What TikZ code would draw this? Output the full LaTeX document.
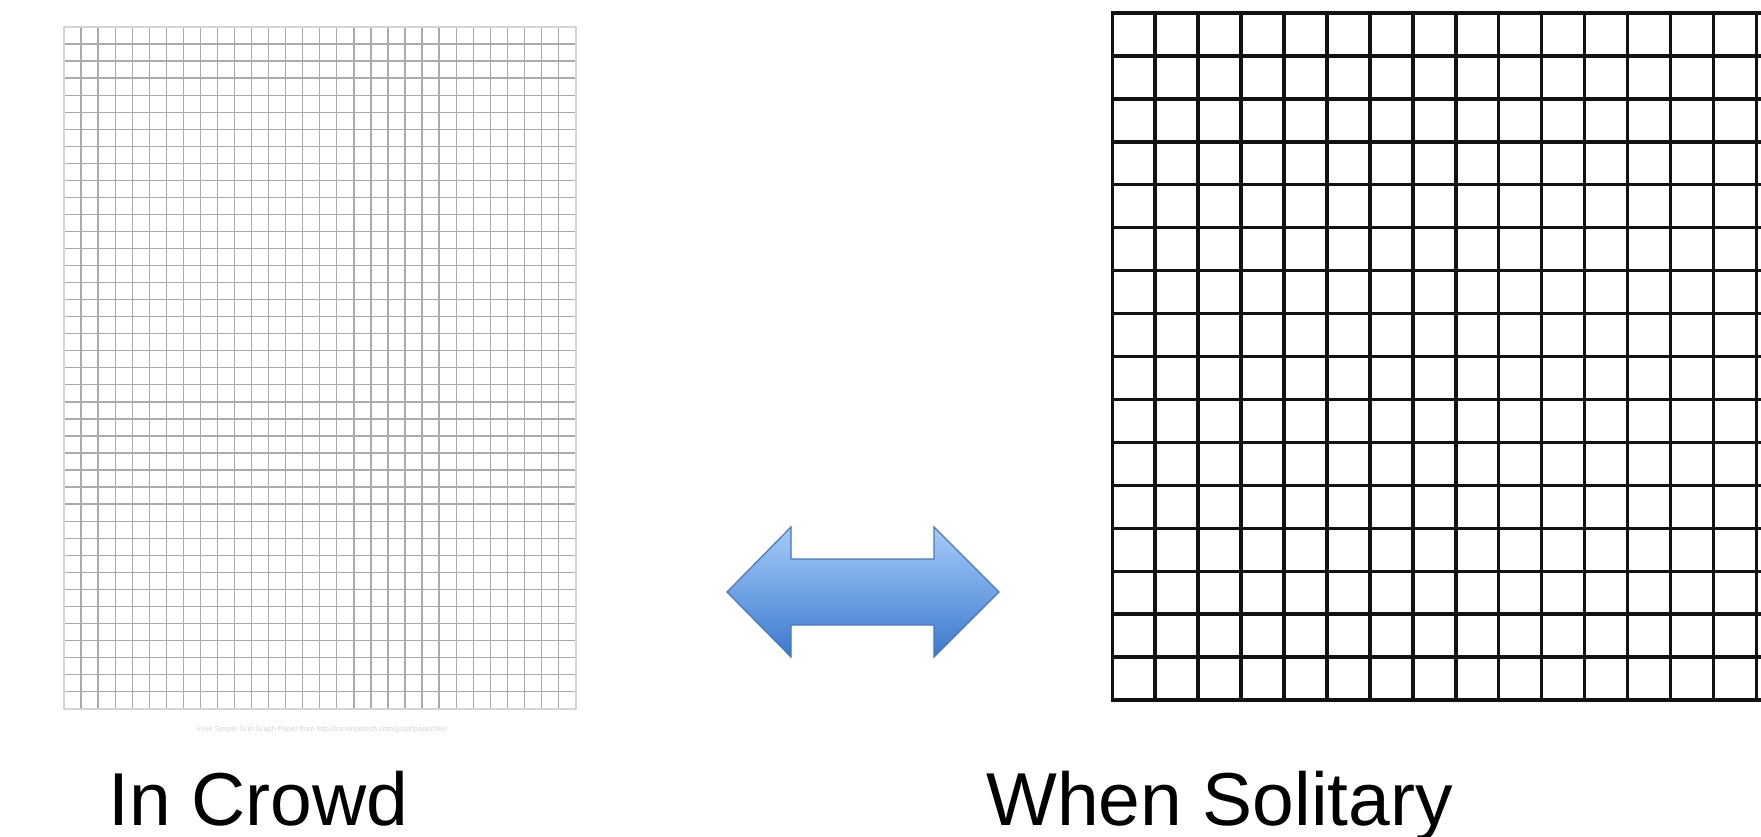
\documentclass[tikz,border=0pt]{standalone}
\usepackage{fontspec}
\setmainfont{Liberation Sans}
\usepackage{tikz}

\definecolor{papergray}{HTML}{ABABAB}
\definecolor{paperedge}{HTML}{D4D4D4}
\definecolor{arrowtop}{HTML}{A6CBFA}
\definecolor{arrowbot}{HTML}{3B79CC}
\definecolor{arrowline}{HTML}{4778B8}

\begin{document}
\begin{tikzpicture}[
  x=1pt, y=-1pt,
  crowdline/.style={draw=papergray, line width=1.3pt},
  sololine/.style={draw=black!93, line width=3.4pt},
  caption/.style={inner sep=0pt, anchor=base west, font=\fontsize{75}{90}\selectfont}
]
\useasboundingbox (0,0) rectangle (1761,837);
\clip (0,0) rectangle (1761,837);
% left sheet, 30 x 40 fine cells
\foreach \i in {1,...,29}
  \draw[crowdline] (64+\i*17.05,27) -- (64+\i*17.05,708.5);
\foreach \j in {1,...,39}
  \draw[crowdline] (64,27+\j*17.04) -- (575.5,27+\j*17.04);
\draw[paperedge, line width=2pt] (64,27) rectangle (575.5,708.5);
\node[inner sep=0pt, text=black!17, font=\fontsize{7.4}{8}\selectfont] (credit) at (322,730)
  {Free Simple Grid Graph Paper from http://incompetech.com/graphpaper/lite/};
% right sheet, coarse cells running off the edge
\foreach \i in {0,...,16}
  \draw[sololine] (1112.2+\i*42.95,13) -- (1112.2+\i*42.95,700);
\foreach \j in {0,...,16}
  \draw[sololine] (1110.5,13+\j*42.94) -- (1800,13+\j*42.94);
% two-way arrow
\shade[top color=arrowtop, bottom color=arrowbot]
  (727,592) -- (791,527) -- (791,559) -- (934,559) -- (934,527) -- (999,592)
  -- (934,657) -- (934,625) -- (791,625) -- (791,657) -- cycle;
\draw[arrowline, line width=1.2pt, line join=miter]
  (727,592) -- (791,527) -- (791,559) -- (934,559) -- (934,527) -- (999,592)
  -- (934,657) -- (934,625) -- (791,625) -- (791,657) -- cycle;
% captions
\node[caption] (crowd) at (108,825) {In Crowd};
\node[caption] (solitary) at (986,825) {When Solitary};
\end{tikzpicture}
\end{document}
